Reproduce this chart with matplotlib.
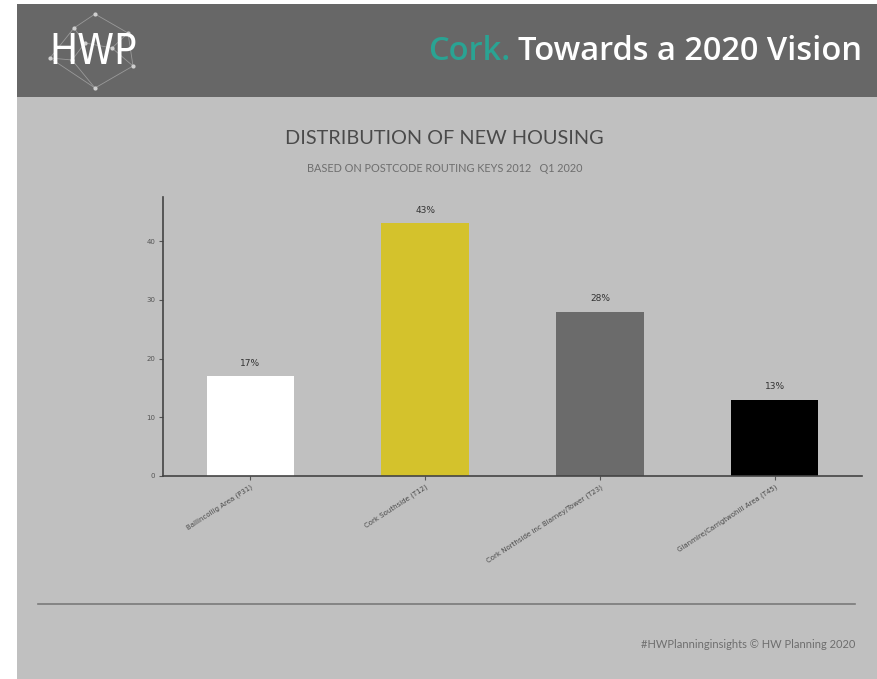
import matplotlib
matplotlib.use("Agg")
import matplotlib.pyplot as plt
from matplotlib.patches import Rectangle
from matplotlib.lines import Line2D

categories = ["Ballincollig Area (P31)", "Cork Southside (T12)",
              "Cork Northside inc Blarney/Tower (T23)", "Glanmire/Carrigtwohill Area (T45)"]
values = [17, 43, 28, 13]
bar_labels = ["17%", "43%", "28%", "13%"]
bar_colors = ["#ffffff", "#d4c22c", "#6b6b6b", "#000000"]
yticks = [0, 10, 20, 30, 40]

W, H = 878, 679
fig = plt.figure(figsize=(W / 100, H / 100), dpi=100, facecolor="white")

def px(x, y):
    return x / W, 1 - y / H

# background panels
fig.patches.append(Rectangle((17 / W, 0), 1 - 17 / W, 1 - 97 / H, transform=fig.transFigure,
                             facecolor="#c0c0c0", edgecolor="none", zorder=-10))
fig.patches.append(Rectangle((17 / W, 1 - 97 / H), 1 - 17 / W, 93 / H, transform=fig.transFigure,
                             facecolor="#676767", edgecolor="none", zorder=-10))

# header title
x0, y0 = px(862, 52)
t2 = fig.text(x0, y0, "Towards a 2020 Vision", color="white", fontsize=23.5, family="Open Sans",
              fontweight="semibold", ha="right", va="center")
fig.canvas.draw()
bb = t2.get_window_extent()
fig.text(bb.x0 / W - 0.009, y0, "Cork.", color="#2aa393", fontsize=23.5, family="Open Sans",
         fontweight="semibold", ha="right", va="center")

# logo
nodes = [(95, 14), (74, 28), (128, 33), (50, 58), (72, 60), (133, 66), (95, 88), (85, 43), (112, 48)]
edges = [(0, 1), (0, 2), (1, 3), (2, 5), (3, 6), (5, 6), (1, 7), (7, 8), (8, 2), (4, 6), (7, 4), (8, 5), (3, 4)]
for a, b in edges:
    xa, ya = px(*nodes[a]); xb, yb = px(*nodes[b])
    fig.lines.append(Line2D([xa, xb], [ya, yb], transform=fig.transFigure, color="#9a9a9a", lw=0.6))
for n in nodes:
    xn, yn = px(*n)
    fig.lines.append(Line2D([xn], [yn], transform=fig.transFigure, marker="o", ms=2, color="#d0d0d0", lw=0))
lx, ly = px(93, 52)
fig.text(lx, ly, "HWP", color="white", fontsize=30, family="DejaVu Sans", fontweight="ultralight",
         ha="center", va="center", fontstretch="condensed")

# titles
tx, ty = px(444, 138)
fig.text(tx, ty, "DISTRIBUTION OF NEW HOUSING", color="#4a4a4a", fontsize=14.3, family="Lato",
         ha="center", va="center")
sx, sy = px(445, 168)
fig.text(sx, sy, "BASED ON POSTCODE ROUTING KEYS 2012   Q1 2020", color="#6e6e6e", fontsize=7.8,
         family="Lato", ha="center", va="center")

# chart axes
left, bottom = px(163, 476)
right, top = px(862, 197)
ax = fig.add_axes([left, bottom, right - left, top - bottom])
ax.set_facecolor("none")
xs = list(range(len(categories)))
ax.bar(xs, values, width=0.5, color=bar_colors, edgecolor="none", zorder=2)
for x, v, lab in zip(xs, values, bar_labels):
    ax.annotate(lab, (x, v), xytext=(0, 6), textcoords="offset points", ha="center", va="bottom",
                fontsize=6.5, color="#333333")
ax.set_xlim(-0.5, 3.5)
ax.set_ylim(0, 47.5)
ax.set_yticks(yticks)
ax.set_yticklabels([str(t) for t in yticks], fontsize=5, color="#555555")
ax.set_xticks(xs)
ax.set_xticklabels(categories, rotation=33, ha="right", rotation_mode="anchor", fontsize=5,
                   color="#4a4a4a")
for s in ["top", "right"]:
    ax.spines[s].set_visible(False)
for s in ["left", "bottom"]:
    ax.spines[s].set_color("#444444")
    ax.spines[s].set_linewidth(1.2)
ax.tick_params(axis="both", length=3, width=0.8, color="#555555", pad=2.5)

# separator line and footer
ax1, ay1 = px(38, 604)
ax2, _ = px(855, 604)
fig.lines.append(Line2D([ax1, ax2], [ay1, ay1], transform=fig.transFigure, color="#7a7a7a", lw=1.2))
fx, fy = px(855, 644)
fig.text(fx, fy, "#HWPlanninginsights \u00a9 HW Planning 2020", color="#6e6e6e", fontsize=8,
         family="Lato", ha="right", va="center")

fig.savefig("out.png", dpi=100, facecolor="white")
